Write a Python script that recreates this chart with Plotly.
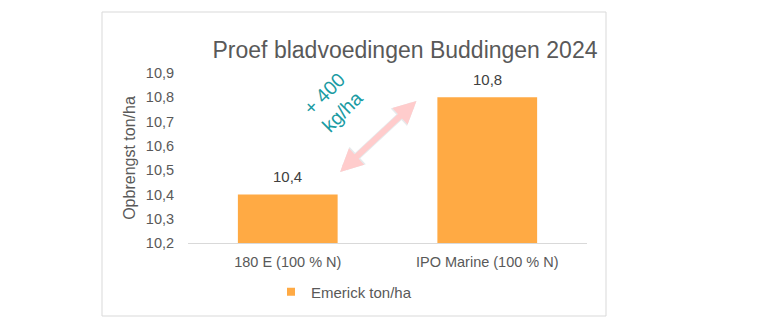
import plotly.graph_objects as go

categories = ["180 E (100 % N)", "IPO Marine (100 % N)"]
values = [10.4, 10.8]
series_name = "Emerick ton/ha"
tick_vals = [10.2, 10.3, 10.4, 10.5, 10.6, 10.7, 10.8, 10.9]

FONT = "Liberation Sans, Arial, sans-serif"
GREY = "#595959"
ORANGE = "#FFAA44"
CLEAR = "rgba(0,0,0,0)"

fig = go.Figure()
fig.add_trace(go.Bar(
    x=categories, y=values, name=series_name,
    marker=dict(color=ORANGE, line=dict(width=0)),
    cliponaxis=False, showlegend=False,
))
# legend entry with a small square swatch
fig.add_trace(go.Scatter(
    x=[None], y=[None], mode="markers", name=series_name,
    marker=dict(symbol="square", size=8, color=ORANGE), showlegend=True,
))

# data labels above the bars, placed through the axes
for c, v in zip(categories, values):
    fig.add_annotation(x=c, y=v, xref="x", yref="y", text=f"{v:.1f}".replace(".", ","),
                       showarrow=False, yanchor="bottom", yshift=7,
                       font=dict(size=15, color="#404040", family=FONT))

# plot area pixels: x 188..587, y 73..243
L, R, T, B = 188, 173, 73, 90
PW, PH = 760 - L - R, 333 - T - B

def px(xp):
    return (xp - L) / PW

def py(yp):
    return (333 - B - yp) / PH

fig.add_shape(type="rect", xref="paper", yref="paper",
              x0=px(102), x1=px(606), y0=py(316), y1=py(12),
              line=dict(color="#D9D9D9", width=1), fillcolor=CLEAR, layer="below")

# double-headed arrow (faint outline then pink fill)
for w, s, c in [(7.5, 0.64, "#E6EAEC"), (6, 0.75, "#FFCCCC")]:
    fig.add_annotation(x=0.645, y=10.785, ax=0.255, ay=10.487,
                       xref="x", yref="y", axref="x", ayref="y",
                       text="", showarrow=True, arrowhead=2, startarrowhead=2,
                       arrowside="end+start", arrowsize=s, startarrowsize=s,
                       arrowwidth=w, arrowcolor=c)

fig.add_annotation(x=0.226, y=10.78, xref="x", yref="y",
                   text="+ 400<br>kg/ha", showarrow=False, textangle=-45,
                   font=dict(size=19.5, color="#1A9BA3", family=FONT))

fig.update_layout(
    width=760, height=333,
    margin=dict(l=L, r=R, t=T, b=B),
    paper_bgcolor="white", plot_bgcolor="white",
    separators=",.",
    font=dict(family=FONT, color=GREY, size=14),
    bargap=0.5,
    title=dict(text="Proef bladvoedingen Buddingen 2024", x=405/760, xanchor="center",
               y=1 - 50/333, yanchor="middle", font=dict(size=23, color=GREY, family=FONT)),
    xaxis=dict(showline=True, linecolor="#D9D9D9", linewidth=1, ticks="outside",
               ticklen=6, tickcolor=CLEAR,
               tickfont=dict(size=14.5, color=GREY), showgrid=False, zeroline=False),
    yaxis=dict(range=[10.2, 10.9], tickvals=tick_vals, tickformat=".1f", showgrid=False,
               zeroline=False, showline=False, ticks="outside", ticklen=10, tickcolor=CLEAR,
               tickfont=dict(size=14.5, color=GREY),
               title=dict(text="Opbrengst ton/ha", font=dict(size=16, color=GREY), standoff=6)),
    legend=dict(orientation="h", x=px(271), xanchor="left", y=py(292), yanchor="middle",
                font=dict(size=15, color=GREY), itemwidth=30, bgcolor=CLEAR),
)

fig.write_html("out.html")
